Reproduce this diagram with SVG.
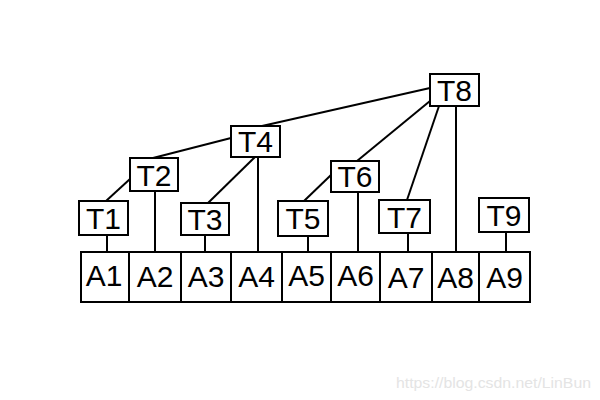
<svg xmlns="http://www.w3.org/2000/svg" width="600" height="400" viewBox="0 0 600 400">
<style>
.box{fill:#fff;stroke:#000;stroke-width:2}
.lbl{font-family:"Liberation Sans",Arial,sans-serif;font-size:30px;fill:#000;text-anchor:middle}
.ln{stroke:#000;stroke-width:2;fill:none}
.wm{font-family:"Liberation Sans",Arial,sans-serif;font-size:15px;fill:#e4e4e4}
</style>
<rect width="600" height="400" fill="#fff"/>
<g id="connectors">
<line class="ln" x1="107" y1="235" x2="107" y2="252"/>
<line class="ln" x1="155" y1="191" x2="155" y2="252"/>
<line class="ln" x1="205" y1="235" x2="205" y2="252"/>
<line class="ln" x1="258" y1="157" x2="258" y2="252"/>
<line class="ln" x1="308" y1="236" x2="308" y2="252"/>
<line class="ln" x1="358" y1="192" x2="358" y2="252"/>
<line class="ln" x1="408" y1="233" x2="408" y2="252"/>
<line class="ln" x1="456" y1="106" x2="456" y2="252"/>
<line class="ln" x1="506" y1="232" x2="506" y2="252"/>
<line class="ln" x1="106" y1="201" x2="130" y2="179"/>
<line class="ln" x1="153" y1="158" x2="231" y2="138"/>
<line class="ln" x1="255" y1="157" x2="208" y2="203"/>
<line class="ln" x1="430" y1="88" x2="262" y2="126"/>
<line class="ln" x1="430" y1="101" x2="357" y2="161"/>
<line class="ln" x1="439" y1="106" x2="407" y2="200"/>
<line class="ln" x1="331" y1="175" x2="304" y2="201"/>
</g>
<g id="A1"><rect class="box" x="81" y="252" width="48" height="50"/><text class="lbl" x="104" y="286">A1</text></g>
<g id="A2"><rect class="box" x="129" y="252" width="52" height="50"/><text class="lbl" x="155" y="287">A2</text></g>
<g id="A3"><rect class="box" x="181" y="252" width="50" height="50"/><text class="lbl" x="206" y="287">A3</text></g>
<g id="A4"><rect class="box" x="231" y="252" width="51" height="50"/><text class="lbl" x="256.5" y="287">A4</text></g>
<g id="A5"><rect class="box" x="282" y="252" width="49" height="50"/><text class="lbl" x="306.5" y="286">A5</text></g>
<g id="A6"><rect class="box" x="331" y="252" width="49" height="50"/><text class="lbl" x="355.5" y="286">A6</text></g>
<g id="A7"><rect class="box" x="380" y="252" width="52" height="50"/><text class="lbl" x="406" y="288">A7</text></g>
<g id="A8"><rect class="box" x="432" y="252" width="47" height="50"/><text class="lbl" x="455.5" y="288">A8</text></g>
<g id="A9"><rect class="box" x="479" y="252" width="51" height="50"/><text class="lbl" x="504.5" y="288">A9</text></g>
<g id="T1"><rect class="box" x="79" y="201" width="49" height="34"/><text class="lbl" x="103.5" y="229">T1</text></g>
<g id="T2"><rect class="box" x="130" y="158" width="48" height="33"/><text class="lbl" x="154" y="186">T2</text></g>
<g id="T3"><rect class="box" x="181" y="203" width="48" height="32"/><text class="lbl" x="205" y="230">T3</text></g>
<g id="T4"><rect class="box" x="231" y="126" width="49" height="31"/><text class="lbl" x="255.5" y="152">T4</text></g>
<g id="T5"><rect class="box" x="278" y="201" width="50" height="35"/><text class="lbl" x="303" y="229">T5</text></g>
<g id="T6"><rect class="box" x="331" y="161" width="48" height="31"/><text class="lbl" x="355" y="187">T6</text></g>
<g id="T7"><rect class="box" x="379" y="200" width="51" height="33"/><text class="lbl" x="404.5" y="228">T7</text></g>
<g id="T8"><rect class="box" x="430" y="74" width="49" height="32"/><text class="lbl" x="454.5" y="101">T8</text></g>
<g id="T9"><rect class="box" x="479" y="198" width="50" height="34"/><text class="lbl" x="504" y="226">T9</text></g>
<text class="wm" x="396" y="388" textLength="195" lengthAdjust="spacingAndGlyphs">https://blog.csdn.net/LinBun</text>
</svg>
